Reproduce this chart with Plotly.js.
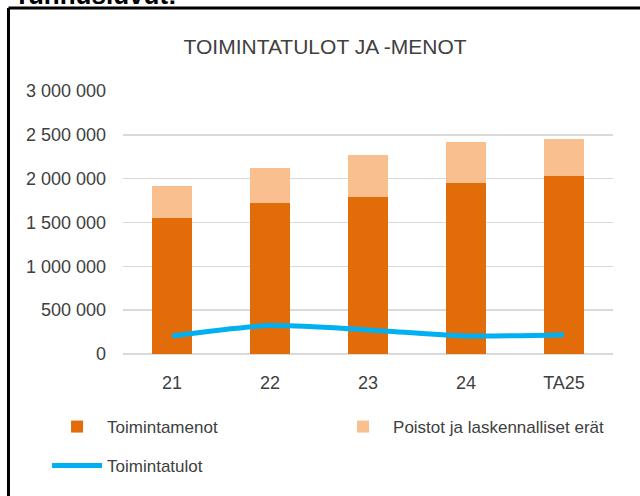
<!DOCTYPE html>
<html>
<head>
<meta charset="utf-8">
<script src="https://cdn.plot.ly/plotly-3.0.1.min.js"></script>
<style>html,body{margin:0;padding:0;background:#fff;}#chart{width:640px;height:496px;}</style>
</head>
<body>
<div id="chart"></div>
<script>
const categories = ["21", "22", "23", "24", "TA25"];
const toimintamenot = [1554000, 1725000, 1786000, 1947000, 2035000];
const poistot = [362000, 397000, 481000, 469000, 423000];
const toimintatulot = [206000, 324000, 275000, 206000, 221000];
const yTicks = [0, 500000, 1000000, 1500000, 2000000, 2500000, 3000000];

const FONT = '"Liberation Sans", Arial, sans-serif';

const traces = [
  {type: 'bar', name: 'Toimintamenot', x: categories, y: toimintamenot,
   marker: {color: '#e36c0a'}, hoverinfo: 'skip', legend: 'legend'},
  {type: 'bar', name: 'Poistot ja laskennalliset erät', x: categories, y: poistot,
   marker: {color: '#f9bf8f'}, hoverinfo: 'skip', legend: 'legend'},
  {type: 'scatter', mode: 'lines', name: 'Toimintatulot', x: categories, y: toimintatulot,
   line: {color: '#00b0f0', width: 5, shape: 'spline', smoothing: 0.8}, hoverinfo: 'skip', legend: 'legend2'}
];

const legendFont = {family: FONT, size: 17, color: '#404040'};

const layout = {
  width: 640, height: 496,
  paper_bgcolor: '#ffffff', plot_bgcolor: '#ffffff',
  separators: ', ',
  font: {family: FONT, size: 17, color: '#404040'},
  margin: {l: 123, r: 27, t: 91, b: 142},
  barmode: 'stack',
  bargap: 0.59,
  title: {text: 'TOIMINTATULOT JA -MENOT', font: {family: FONT, size: 21, color: '#404040'},
          x: 0.508, xanchor: 'center', y: 0.905, yanchor: 'middle'},
  xaxis: {type: 'category', showgrid: false, zeroline: false, showline: false, ticks: '',
          ticklabelstandoff: 16,
          tickfont: {family: FONT, size: 18, color: '#404040'}},
  yaxis: {range: [0, 3000000], tickvals: yTicks, tickformat: ',d', showgrid: true,
          gridcolor: '#d9d9d9', gridwidth: 1.5, zeroline: true, zerolinecolor: '#d9d9d9', zerolinewidth: 1.5,
          showline: false, ticks: '', ticklabelstandoff: 16,
          tickfont: {family: FONT, size: 18, color: '#404040'}},
  showlegend: true,
  legend: {orientation: 'h', x: -0.155, xanchor: 'left', y: -0.2776, yanchor: 'middle',
           entrywidth: 221, entrywidthmode: 'pixels', itemwidth: 50, traceorder: 'normal',
           font: legendFont, bgcolor: 'rgba(0,0,0,0)'},
  legend2: {orientation: 'h', x: -0.155, xanchor: 'left', y: -0.4259, yanchor: 'middle',
           itemwidth: 50, font: legendFont, bgcolor: 'rgba(0,0,0,0)'},
  shapes: [
    {type: 'line', xref: 'paper', yref: 'paper', x0: -0.2337, x1: 1.2, y0: 1.3156, y1: 1.3156,
     line: {color: '#000000', width: 3}},
    {type: 'line', xref: 'paper', yref: 'paper', x0: -0.2337, x1: -0.2337, y0: 1.3156, y1: -0.6,
     line: {color: '#000000', width: 3}}
  ],
  annotations: [
    {text: '<b>Tunnusluvut:</b>', xref: 'paper', yref: 'paper', x: -0.226, y: 1.431, xanchor: 'left', yanchor: 'top',
     showarrow: false, font: {family: FONT, size: 26, color: '#000000'}}
  ]
};

Plotly.newPlot('chart', traces, layout, {displayModeBar: false, staticPlot: true});
</script>
</body>
</html>
